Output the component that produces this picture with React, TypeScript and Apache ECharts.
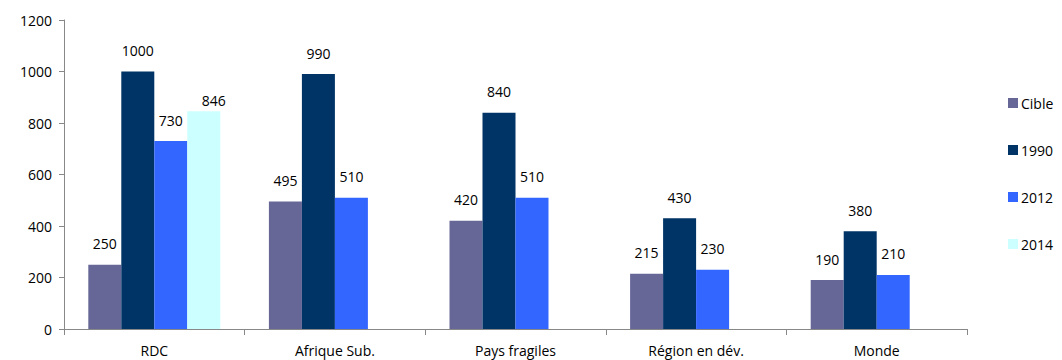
import React, { useEffect, useRef } from "react";
import * as echarts from "echarts";

const categories = ["RDC", "Afrique Sub.", "Pays fragiles", "Région en dév.", "Monde"];
const seriesNames = ["Cible", "1990", "2012", "2014"];
const cible = [250, 495, 420, 215, 190];
const y1990 = [1000, 990, 840, 430, 380];
const y2012 = [730, 510, 510, 230, 210];
const y2014 = [846, null, null, null, null];
const colors = ["#676797", "#003366", "#3366FF", "#CCFFFF"];

const FONT = "Open Sans";

export default function App() {
  const ref = useRef<HTMLDivElement>(null);
  useEffect(() => {
    if (!ref.current) return;
    const chart = echarts.init(ref.current, undefined, { renderer: "svg" });
    const values = [cible, y1990, y2012, y2014];
    chart.setOption({
      animation: false,
      textStyle: { fontFamily: FONT },
      grid: { left: 64, right: 95, top: 20, bottom: 31, containLabel: false },
      legend: {
        orient: "vertical",
        left: 1008,
        top: 96,
        padding: 0,
        itemWidth: 10,
        itemHeight: 10,
        itemGap: 33,
        icon: "rect",
        data: seriesNames,
        textStyle: { fontFamily: FONT, fontSize: 14, color: "#000", padding: [0, 0, 0, -2] },
      },
      xAxis: {
        type: "category",
        data: categories,
        axisLine: { lineStyle: { color: "#888" } },
        axisTick: { show: true, alignWithLabel: false, length: 6, lineStyle: { color: "#888" } },
        axisLabel: { color: "#000", fontSize: 14, margin: 14, fontFamily: FONT },
      },
      yAxis: {
        type: "value",
        min: 0,
        max: 1200,
        interval: 200,
        axisLine: { show: true, lineStyle: { color: "#888" } },
        axisTick: { show: true, length: 5, lineStyle: { color: "#888" } },
        splitLine: { show: false },
        axisLabel: {
          color: "#000",
          fontSize: 14,
          margin: 12,
          fontFamily: FONT,
          formatter: (v: number) => String(v),
        },
      },
      series: seriesNames.map((name, i) => ({
        name,
        type: "bar",
        data: values[i].map((v, j) =>
          name === "2014" && j === 0
            ? { value: v, label: { offset: [10, 10] } }
            : v
        ),
        barWidth: 33,
        barGap: "0%",
        itemStyle: { color: colors[i] },
        label: {
          show: true,
          position: "top",
          distance: 14,
          color: "#000",
          fontSize: 14,
          fontFamily: FONT,
        },
      })),
    });
    return () => chart.dispose();
  }, []);
  return (
    <div
      ref={ref}
      style={{ position: "fixed", left: 0, top: 0, width: 1062, height: 360, background: "#fff" }}
    />
  );
}
